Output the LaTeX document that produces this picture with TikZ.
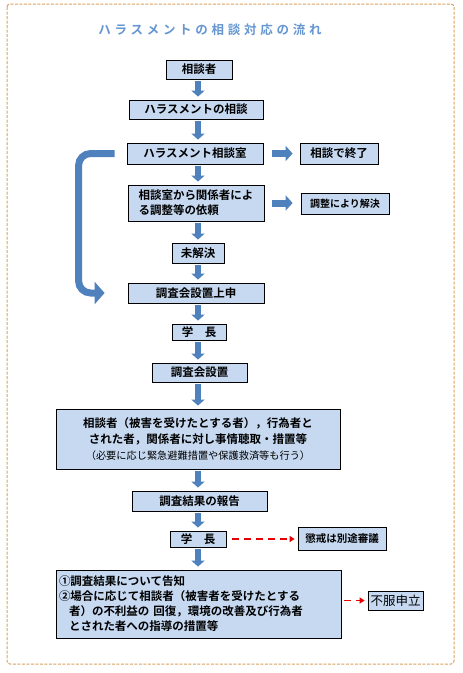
\documentclass[tikz,border=0pt]{standalone}
\usepackage{fontspec}
\setmainfont{Noto Sans CJK JP}[BoldFont={Noto Sans CJK JP Bold}]
\newfontfamily\titlefont{Noto Sans CJK JP Bold}[LetterSpace=30]
\usetikzlibrary{arrows.meta}
\definecolor{boxfill}{RGB}{198,217,241}
\definecolor{arrowblue}{RGB}{79,129,189}
\definecolor{arrowred}{RGB}{230,0,0}
\definecolor{titleblue}{RGB}{100,150,210}
\definecolor{framecol}{RGB}{218,158,92}

\begin{document}
\begin{tikzpicture}[x=1pt, y=-1pt, >=Latex,
  box/.style={draw=black, line width=0.8pt, fill=boxfill, inner sep=1pt, align=center,
    font=\bfseries\fontsize{11.5}{15}\selectfont},
  downarrow/.style={draw=arrowblue, line width=6pt, -{Triangle[width=13pt,length=6pt]},
    shorten <=2pt, shorten >=3pt},
  rightarrow/.style={draw=arrowblue, line width=7pt, -{Triangle[width=15pt,length=7pt]},
    shorten <=8pt, shorten >=7pt},
  curvearrow/.style={draw=arrowblue, line width=7pt, rounded corners=12pt,
    -{Triangle[width=22pt,length=10pt]}},
  redarrow/.style={draw=arrowred, line width=1.5pt, dash pattern=on 7pt off 5pt,
    -{Triangle[width=6pt,length=5pt]}}]
  \useasboundingbox (0,0) rectangle (463,673);
  \draw[framecol, line width=1pt, dash pattern=on 3pt off 1.5pt, rounded corners=3pt]
    (7,4) rectangle (454,664);
  \node[font=\titlefont\fontsize{12.5}{14}\selectfont, text=titleblue] (title) at (210,30)
    {ハラスメントの相談対応の流れ};

  \node[box, minimum width=66pt, minimum height=19pt] (sodansha) at (199,69.5) {相談者};
  \node[box, minimum width=134pt, minimum height=19pt] (sodan) at (196,109.5) {ハラスメントの相談};
  \node[box, minimum width=136pt, minimum height=21pt] (sodanshitsu) at (195,153.5) {ハラスメント相談室};
  \node[box, minimum width=78pt, minimum height=21pt] (shuryo) at (339,153.5) {相談で終了};
  \node[box, minimum width=136pt, minimum height=36pt, align=left] (irai) at (196,203)
    {相談室から関係者によ\\る調整等の依頼};
  \node[box, minimum width=88pt, minimum height=21pt, font=\bfseries\fontsize{10}{12}\selectfont]
    (kaiketsu) at (345,203.5) {調整により解決};
  \node[box, minimum width=52pt, minimum height=20pt] (mikaiketsu) at (198,253) {未解決};
  \node[box, minimum width=136pt, minimum height=20pt] (joshin) at (196,293) {調査会設置上申};
  \node[box, minimum width=54pt, minimum height=16pt] (gakucho) at (199,332) {学　長};
  \node[box, minimum width=95pt, minimum height=19pt] (secchi) at (199.5,372.5) {調査会設置};
  \node[box, minimum width=284pt, minimum height=60pt, font=\bfseries\fontsize{11.5}{16}\selectfont]
    (chosa) at (198,439)
    {相談者（被害を受けたとする者），行為者と\\された者，関係者に対し事情聴取・措置等\\
     {\mdseries\fontsize{10.2}{14}\selectfont （必要に応じ緊急避難措置や保護救済等も行う）}};
  \node[box, minimum width=135pt, minimum height=20pt] (hokoku) at (199.5,501) {調査結果の報告};
  \node[box, minimum width=56pt, minimum height=16pt] (gakuchob) at (198,539) {学　長};
  \node[box, minimum width=88pt, minimum height=23pt, font=\bfseries\fontsize{10.5}{12}\selectfont]
    (chokai) at (342,538.5) {懲戒は別途審議};
  \node[box, minimum width=285pt, minimum height=68pt, text width=279pt, align=left, inner xsep=3pt]
    (kekka) at (198.5,604)
    {①調査結果について告知\\②場合に応じて相談者（被害者を受けたとする\\
     \hspace*{10pt}者）の不利益の 回復，環境の改善及び行為者\\
     \hspace*{10pt}とされた者への指導の措置等};
  \node[box, minimum width=55pt, minimum height=19pt, font=\mdseries\fontsize{12.5}{14}\selectfont]
    (fufuku) at (395.5,600.5) {不服申立};

  \coordinate (axis) at (198,0);
  \foreach \a/\b in {sodansha/sodan, sodan/sodanshitsu, sodanshitsu/irai, irai/mikaiketsu,
      mikaiketsu/joshin, joshin/gakucho, gakucho/secchi, secchi/chosa, chosa/hokoku,
      hokoku/gakuchob, gakuchob/kekka}
    \draw[downarrow] (axis |- \a.south) -- (axis |- \b.north);
  \draw[rightarrow, shorten <=9pt] (sodanshitsu.east) -- (shuryo.west);
  \draw[rightarrow, shorten >=8pt] (irai.east) -- (irai.east -| kaiketsu.west);
  \draw[curvearrow] ([xshift=-12pt]sodanshitsu.west) -- ++(-36,0) |- ([xshift=-23pt]joshin.west);
  \draw[redarrow, shorten <=6pt, shorten >=3pt] (gakuchob.east) -- (gakuchob.east -| chokai.west);
  \draw[redarrow, shorten <=3pt, shorten >=3pt] (fufuku.west -| kekka.east) -- (fufuku.west);
\end{tikzpicture}
\end{document}
